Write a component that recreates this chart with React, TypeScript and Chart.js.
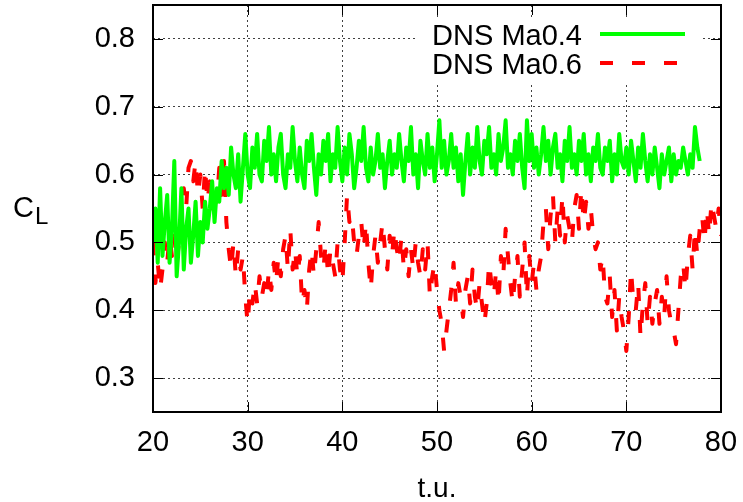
import React, { useEffect, useRef } from "react";
import { Chart, registerables } from "chart.js";

Chart.register(...registerables);

// time axis: samples start at T0 with step DT (t.u.)
const T0 = 20;
const DT = 0.25;

const X_TICKS = [20, 30, 40, 50, 60, 70, 80];
const Y_TICKS = [0.3, 0.4, 0.5, 0.6, 0.7, 0.8];

const SERIES_NAMES = ["DNS Ma0.4", "DNS Ma0.6"];

// DNS Ma0.4, t = 20 .. 77.75
const CL_MA04 = [
  0.50, 0.55, 0.47, 0.58, 0.48, 0.53, 0.57, 0.47,
  0.52, 0.62, 0.45, 0.50, 0.58, 0.46, 0.52, 0.55,
  0.47, 0.51, 0.56, 0.48, 0.53, 0.50, 0.56, 0.52,
  0.55, 0.59, 0.53, 0.58, 0.56, 0.62, 0.58, 0.61,
  0.57, 0.64, 0.60, 0.58, 0.63, 0.56, 0.61, 0.66,
  0.60, 0.58, 0.64, 0.61, 0.66, 0.60, 0.59, 0.65,
  0.62, 0.67, 0.60, 0.63, 0.59, 0.64, 0.66, 0.60,
  0.58, 0.63, 0.61, 0.67, 0.62, 0.59, 0.64, 0.60,
  0.58, 0.65, 0.62, 0.66, 0.61, 0.57, 0.63, 0.60,
  0.65, 0.62, 0.66, 0.59, 0.63, 0.61, 0.67, 0.62,
  0.59, 0.64, 0.60, 0.66, 0.63, 0.58, 0.61, 0.65,
  0.62, 0.67, 0.61, 0.59, 0.64, 0.60, 0.62, 0.66,
  0.61, 0.63, 0.58, 0.62, 0.65, 0.60, 0.63, 0.61,
  0.66, 0.62, 0.59, 0.64, 0.62, 0.67, 0.60, 0.63,
  0.58, 0.65, 0.62, 0.60, 0.66, 0.61, 0.64, 0.59,
  0.63, 0.68, 0.61, 0.65, 0.60, 0.62, 0.66, 0.61,
  0.64, 0.59, 0.63, 0.57, 0.62, 0.66, 0.60, 0.64,
  0.61, 0.67, 0.62, 0.60, 0.65, 0.63, 0.67, 0.61,
  0.63, 0.60, 0.66, 0.62, 0.64, 0.68, 0.61, 0.63,
  0.60, 0.65, 0.62, 0.66, 0.61, 0.58, 0.68, 0.62,
  0.66, 0.61, 0.64, 0.60, 0.63, 0.67, 0.62, 0.65,
  0.60, 0.64, 0.66, 0.61, 0.63, 0.59, 0.65, 0.62,
  0.67, 0.61, 0.63, 0.60, 0.65, 0.62, 0.66, 0.60,
  0.63, 0.59, 0.64, 0.62, 0.66, 0.61, 0.60, 0.64,
  0.62, 0.65, 0.59, 0.63, 0.60, 0.66, 0.62, 0.61,
  0.64, 0.60, 0.65, 0.62, 0.59, 0.64, 0.61, 0.66,
  0.62, 0.59, 0.63, 0.60, 0.64, 0.61, 0.58, 0.63,
  0.60, 0.62, 0.64, 0.59, 0.63, 0.60, 0.62, 0.61,
  0.64, 0.62, 0.60, 0.63, 0.61, 0.67, 0.64, 0.62,
];

// DNS Ma0.6, t = 20 .. 80
const CL_MA06 = [
  0.50, 0.44, 0.47, 0.43, 0.46, 0.50, 0.47, 0.51,
  0.48, 0.51, 0.47, 0.50, 0.54, 0.58, 0.55, 0.61,
  0.62, 0.59, 0.62, 0.57, 0.60, 0.55, 0.61, 0.56,
  0.59, 0.55, 0.58, 0.56, 0.61, 0.57, 0.62, 0.53,
  0.49, 0.46, 0.50, 0.45, 0.49, 0.46, 0.48, 0.42,
  0.38, 0.43, 0.41, 0.44, 0.41, 0.45, 0.42, 0.44,
  0.42, 0.46, 0.43, 0.47, 0.44, 0.48, 0.45, 0.49,
  0.51, 0.46, 0.52, 0.46, 0.49, 0.45, 0.48, 0.41,
  0.43, 0.40, 0.46, 0.49, 0.45, 0.49, 0.53, 0.48,
  0.46, 0.50, 0.45, 0.49, 0.47, 0.45, 0.50, 0.46,
  0.44, 0.50, 0.57, 0.53, 0.54, 0.50, 0.48, 0.51,
  0.53, 0.49, 0.53, 0.47, 0.43, 0.48, 0.51, 0.47,
  0.50, 0.53, 0.49, 0.46, 0.51, 0.48, 0.52, 0.49,
  0.47, 0.51, 0.46, 0.49, 0.45, 0.49, 0.46, 0.50,
  0.47, 0.45, 0.49, 0.46, 0.50, 0.42, 0.45, 0.47,
  0.43, 0.40, 0.38, 0.34, 0.37, 0.40, 0.43, 0.47,
  0.41, 0.44, 0.42, 0.39, 0.43, 0.45, 0.41, 0.46,
  0.42, 0.40, 0.44, 0.41, 0.38, 0.41, 0.47, 0.44,
  0.42, 0.46, 0.41, 0.48, 0.45, 0.52, 0.48, 0.44,
  0.41, 0.45, 0.48, 0.42, 0.46, 0.50, 0.42, 0.48,
  0.44, 0.47, 0.43, 0.46, 0.48, 0.53, 0.55, 0.49,
  0.54, 0.57, 0.50, 0.55, 0.51, 0.57, 0.50, 0.54,
  0.52, 0.50, 0.55, 0.57, 0.52, 0.58, 0.53, 0.56,
  0.52, 0.55, 0.51, 0.49, 0.50, 0.46, 0.48, 0.42,
  0.41, 0.45, 0.39, 0.43, 0.37, 0.42, 0.39, 0.37,
  0.34, 0.39, 0.46, 0.41, 0.40, 0.44, 0.36, 0.41,
  0.44, 0.38, 0.42, 0.38, 0.41, 0.43, 0.38, 0.42,
  0.39, 0.45, 0.40, 0.38, 0.37, 0.35, 0.40, 0.45,
  0.47, 0.43, 0.48, 0.51, 0.46, 0.52, 0.48, 0.52,
  0.54, 0.50, 0.55, 0.51, 0.56, 0.54, 0.52, 0.55,
  0.51,
];

const GREEN = "#00ff00";
const RED = "#ff0000";
const FONT = '"Liberation Sans", Arial, Helvetica, sans-serif';

const toPoints = (vals: number[]) => vals.map((v, i) => ({ x: T0 + i * DT, y: v }));

const decorPlugin = {
  id: "decor",
  afterDraw(chart: any) {
    const { ctx, chartArea: a, scales } = chart;
    const xs = scales.x;
    const ys = scales.y;
    ctx.save();

    // legend box (opaque, hides grid)
    ctx.fillStyle = "#ffffff";
    ctx.fillRect(a.right - 303, a.top + 12, 284, 66);
    ctx.font = `29px ${FONT}`;
    ctx.textAlign = "right";
    ctx.textBaseline = "alphabetic";
    const rows = [
      { label: SERIES_NAMES[0], color: GREEN, dash: [] as number[] },
      { label: SERIES_NAMES[1], color: RED, dash: [13, 19] },
    ];
    rows.forEach((r, i) => {
      const baseY = a.top + 40 + i * 29;
      ctx.fillStyle = "#000";
      ctx.fillText(r.label, a.right - 139, baseY);
      ctx.beginPath();
      ctx.setLineDash(r.dash);
      ctx.strokeStyle = r.color;
      ctx.lineWidth = 4;
      ctx.moveTo(a.right - 121, baseY - 11);
      ctx.lineTo(a.right - 36, baseY - 11);
      ctx.stroke();
    });
    ctx.setLineDash([]);

    // tick marks (inward, mirrored)
    ctx.strokeStyle = "#000";
    ctx.lineWidth = 1;
    ctx.beginPath();
    X_TICKS.forEach((t) => {
      const px = Math.round(xs.getPixelForValue(t)) + 0.5;
      ctx.moveTo(px, a.bottom);
      ctx.lineTo(px, a.bottom - 10);
      ctx.moveTo(px, a.top);
      ctx.lineTo(px, a.top + 10);
    });
    Y_TICKS.forEach((v) => {
      const py = Math.round(ys.getPixelForValue(v)) + 0.5;
      ctx.moveTo(a.left, py);
      ctx.lineTo(a.left + 10, py);
      ctx.moveTo(a.right, py);
      ctx.lineTo(a.right - 10, py);
    });
    ctx.stroke();

    // frame
    ctx.lineWidth = 2;
    ctx.strokeRect(a.left, a.top, a.right - a.left, a.bottom - a.top);

    // axis titles
    ctx.fillStyle = "#000";
    ctx.textAlign = "left";
    ctx.textBaseline = "alphabetic";
    const midY = (a.top + a.bottom) / 2;
    ctx.font = `29px ${FONT}`;
    ctx.fillText("C", 13, midY + 8.5);
    const cw = ctx.measureText("C").width;
    ctx.font = `24px ${FONT}`;
    ctx.fillText("L", 13 + cw + 1, midY + 15.5);

    ctx.font = `28px ${FONT}`;
    ctx.textAlign = "center";
    ctx.fillText("t.u.", (a.left + a.right) / 2, 497);
    ctx.restore();
  },
};

export default function App() {
  const ref = useRef<HTMLCanvasElement | null>(null);

  useEffect(() => {
    if (!ref.current) return;
    const chart = new Chart(ref.current, {
      type: "line",
      data: {
        datasets: [
          {
            label: SERIES_NAMES[0],
            data: toPoints(CL_MA04),
            borderColor: GREEN,
            backgroundColor: GREEN,
            borderWidth: 4,
            pointRadius: 0,
            tension: 0,
            borderJoinStyle: "round",
            fill: false,
          },
          {
            label: SERIES_NAMES[1],
            data: toPoints(CL_MA06),
            borderColor: RED,
            backgroundColor: RED,
            borderWidth: 4,
            borderDash: [13, 19],
            pointRadius: 0,
            tension: 0,
            borderJoinStyle: "round",
            fill: false,
          },
        ],
      },
      options: {
        responsive: false,
        animation: false,
        layout: { padding: { left: 0, right: 22, top: 5, bottom: 0 } },
        plugins: { legend: { display: false }, tooltip: { enabled: false } },
        scales: {
          x: {
            type: "linear",
            min: 20,
            max: 80,
            afterBuildTicks: (s: any) => {
              s.ticks = X_TICKS.map((v) => ({ value: v }));
            },
            afterFit: (s: any) => {
              s.height = 90;
              s.paddingLeft = 0;
              s.paddingRight = 0;
            },
            grid: { display: true, color: "rgba(0,0,0,0.75)", lineWidth: 1, drawTicks: false },
            border: { display: false, dash: [2, 3] },
            ticks: {
              color: "#000",
              font: { family: FONT, size: 29 },
              padding: 14,
              maxRotation: 0,
              autoSkip: false,
            },
          },
          y: {
            type: "linear",
            min: 0.25,
            max: 0.85,
            afterBuildTicks: (s: any) => {
              s.ticks = Y_TICKS.map((v) => ({ value: v }));
            },
            afterFit: (s: any) => {
              s.width = 153;
              s.paddingTop = 0;
              s.paddingBottom = 0;
            },
            grid: { display: true, color: "rgba(0,0,0,0.75)", lineWidth: 1, drawTicks: false },
            border: { display: false, dash: [2, 3] },
            ticks: {
              color: "#000",
              font: { family: FONT, size: 29 },
              padding: 18,
              autoSkip: false,
              callback: (v: any) => Number(v).toFixed(1),
            },
          },
        },
      },
      plugins: [decorPlugin],
    });
    return () => chart.destroy();
  }, []);

  return (
    <div style={{ position: "fixed", left: 0, top: 0, width: 743, height: 502, background: "#fff" }}>
      <canvas ref={ref} width={743} height={502} />
    </div>
  );
}
